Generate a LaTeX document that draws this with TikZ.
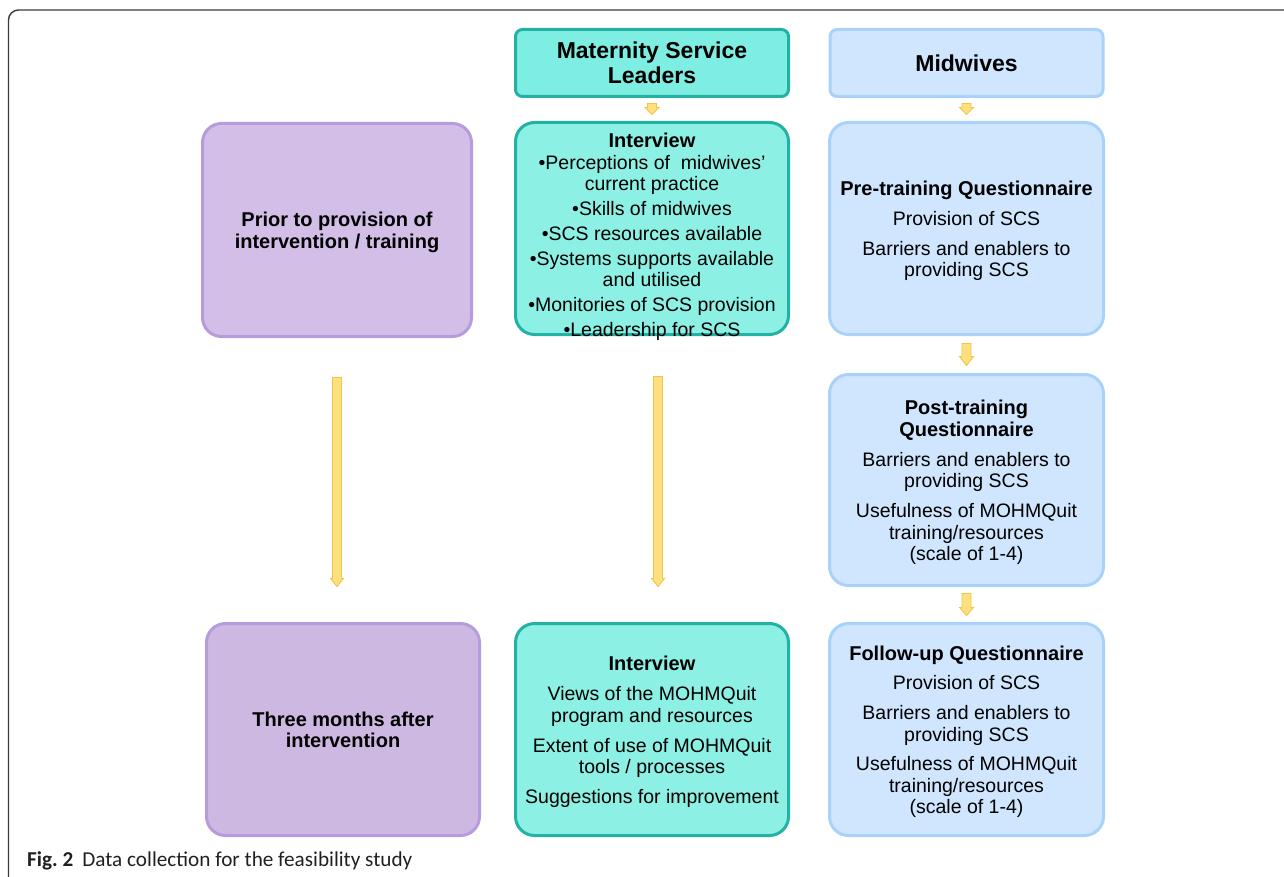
\documentclass[tikz,border=0pt]{standalone}
\usepackage{fontspec}
\setmainfont{Liberation Sans}
\newfontfamily\capfont{Carlito}
\usetikzlibrary{calc}

% colours
\definecolor{tealfillA}{HTML}{7DEEE1}
\definecolor{tealfillB}{HTML}{8CF0E4}
\definecolor{tealline}{HTML}{22B2A5}
\definecolor{bluefill}{HTML}{CFE6FE}
\definecolor{blueline}{HTML}{A8D2FA}
\definecolor{purpfillA}{HTML}{D3BEE8}
\definecolor{purpfillB}{HTML}{CDB8E2}
\definecolor{purpline}{HTML}{B69CDD}
\definecolor{arrowfill}{HTML}{FFDF7E}
\definecolor{arrowline}{HTML}{EEC64A}
\definecolor{framec}{HTML}{3A3A3A}
\definecolor{capc}{HTML}{231F20}

% invisible struts that place the text block inside a box
\newcommand{\upst}{\rule{0pt}{22.5pt}}
\newcommand{\dnst}{\rule[-7.5pt]{0pt}{7.5pt}}
\newcommand{\hdline}[1]{{\fontsize{20}{22}\selectfont\bfseries #1}}

% yellow block arrow: start, end, shaft half width, head half width, head length
\newcommand{\blockarrow}[5]{%
  \draw[yarrow] let \p1=(#1), \p2=(#2) in
    (\x1-#3pt,\y1) -- (\x1+#3pt,\y1) -- (\x1+#3pt,\y2+#5pt) -- (\x1+#4pt,\y2+#5pt)
    -- (\x1,\y2) -- (\x1-#4pt,\y2+#5pt) -- (\x1-#3pt,\y2+#5pt) -- cycle;}

\begin{document}
\begin{tikzpicture}[x=1pt,y=-1pt,
  bigbox/.style={draw, line width=3pt, rounded corners=19pt, inner sep=0pt,
    minimum width=273pt, minimum height=212pt, align=center,
    font=\fontsize{19.5}{21.5}\selectfont},
  headbox/.style={draw, line width=3pt, rounded corners=7pt, inner sep=0pt,
    minimum width=273pt, minimum height=67pt, align=center,
    font=\fontsize{23}{25}\selectfont\bfseries},
  tealA/.style={fill=tealfillA, draw=tealline},
  tealB/.style={fill=tealfillB, draw=tealline},
  blue/.style={fill=bluefill, draw=blueline},
  purpA/.style={fill=purpfillA, draw=purpline},
  purpB/.style={fill=purpfillB, draw=purpline},
  yarrow/.style={fill=arrowfill, draw=arrowline, line width=0.9pt, line join=miter}]

\useasboundingbox (0,0) rectangle (1284,877);

% open frame round the figure
\draw[framec, line width=1.4pt, rounded corners=10pt] (8.5,877) -- (8.5,10) -- (1284,10);

% column headers
\node[headbox, tealA] (msl) at (652,63) {Maternity Service\\Leaders};
\node[headbox, blue] (mw) at (966.5,63) {Midwives};

% row 1
\node[bigbox, purpA, minimum width=269pt, minimum height=213pt] (p1) at (337,230)
  {\upst\hdline{Prior to provision of}\\
   \hdline{intervention / training}\dnst};

% the bullet list runs down onto the lower border
\node[bigbox, tealB] (i1) at (652,228.5)
  {\raisebox{-14.5pt}[0pt][0pt]{\begin{tabular}{@{}c@{}}
   \hdline{Interview}\\
   \textbullet Perceptions of\ \ midwives’\\
   current practice\\[3.4pt]
   \textbullet Skills of midwives\\[3.4pt]
   \textbullet SCS resources available\\[3.4pt]
   \textbullet Systems supports available\\
   and utilised\\[3.4pt]
   \textbullet Monitories of SCS provision\\[3.4pt]
   \textbullet Leadership for SCS
   \end{tabular}}};

\node[bigbox, blue, minimum width=274pt] (pre) at (966.5,228.5)
  {\upst\hdline{Pre-training Questionnaire}\\[8.5pt]
   Provision of SCS\\[8.5pt]
   Barriers and enablers to\\
   providing SCS\dnst};

% row 2
\node[bigbox, blue, minimum width=274pt, minimum height=211pt] (post) at (966.5,480)
  {\upst\hdline{Post-training}\\
   \hdline{Questionnaire}\\[8.5pt]
   Barriers and enablers to\\
   providing SCS\\[8.5pt]
   Usefulness of MOHMQuit\\
   training/resources\\
   (scale of 1-4)\dnst};

% row 3
\node[bigbox, purpB] (p2) at (343,729.5)
  {\upst\hdline{Three months after}\\
   \hdline{intervention}\dnst};

\node[bigbox, tealB] (i2) at (652,729.5)
  {\upst\hdline{Interview}\\[8.5pt]
   Views of the MOHMQuit\\
   program and resources\\[8.5pt]
   Extent of use of MOHMQuit\\
   tools / processes\\[8pt]
   Suggestions for improvement\dnst};

\node[bigbox, blue, minimum width=274pt] (fu) at (966.5,729.5)
  {\upst\hdline{Follow-up Questionnaire}\\[8pt]
   Provision of SCS\\[8.5pt]
   Barriers and enablers to\\
   providing SCS\\[8pt]
   Usefulness of MOHMQuit\\
   training/resources\\
   (scale of 1-4)\dnst};

% arrows
\blockarrow{$(msl.south)+(0,5.5)$}{$(i1.north)+(0,-6.5)$}{4.5}{7}{7}
\blockarrow{$(mw.south)+(0,5.5)$}{$(pre.north)+(0,-6.5)$}{4.5}{7}{7}
\blockarrow{$(pre.south)+(0,7.5)$}{$(post.north)+(0,-7.5)$}{4.5}{7}{9}
\blockarrow{$(post.south)+(0,6.5)$}{$(fu.north)+(0,-6.5)$}{4.5}{7}{8}
\blockarrow{$(p1.south)+(0,39.5)$}{$(p2.north)+(0,-35.5)$}{4.5}{6.5}{8}
\blockarrow{$(i1.south)+(6,40.5)$}{$(i2.north)+(6,-35.5)$}{4.5}{6.5}{8}

% caption
\node[anchor=base west, inner sep=0pt, text=capc,
      font=\capfont\fontsize{21.2}{24}\selectfont] (cap) at (27,866)
  {\textbf{Fig.~2}\hspace{9pt}Data collection for the feasibility study};

\end{tikzpicture}
\end{document}
